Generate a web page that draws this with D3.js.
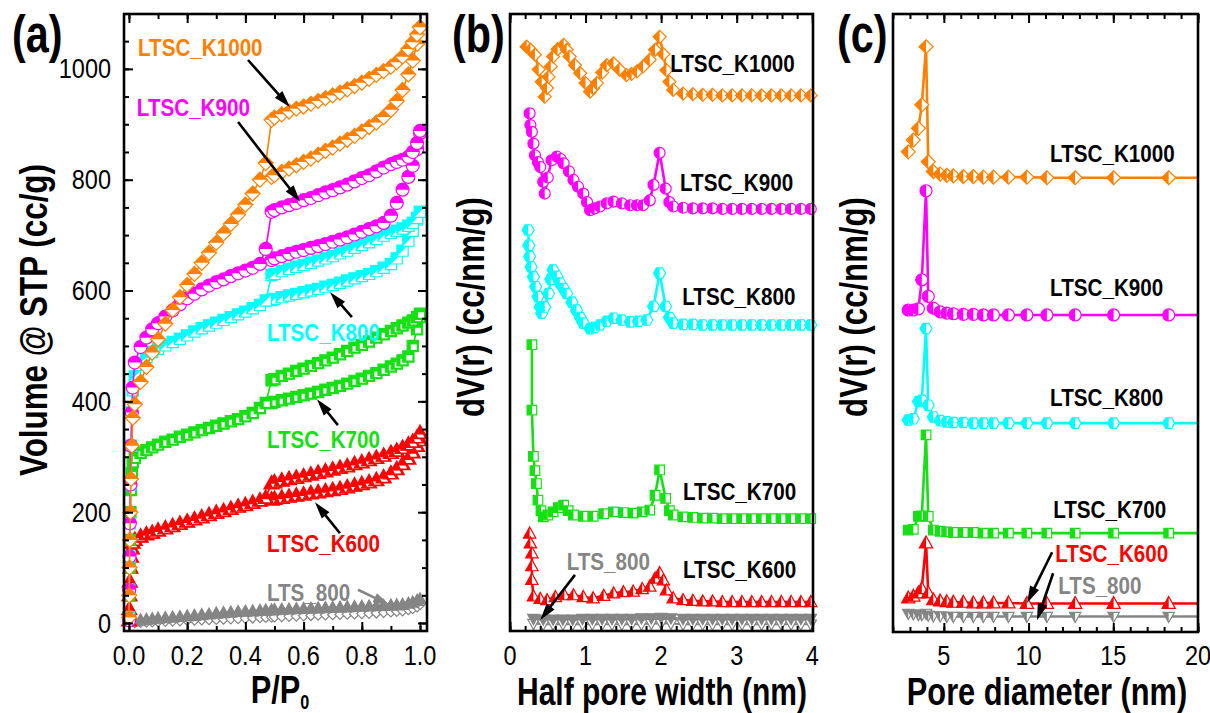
<!DOCTYPE html>
<html>
<head>
<meta charset="utf-8">
<script src="https://cdn.jsdelivr.net/npm/d3@7"></script>
<style>
  body { margin: 0; background: #fff; }
  svg { display: block; }
  text { font-family: "Liberation Sans", Arial, Helvetica, sans-serif; }
</style>
</head>
<body>
<div class="container"></div>
<script>
// ---------- (a) N2 isotherms, volume @ STP (cc/g) vs P/P0 ----------
// relative pressure grids
const pLow  = [0.0005,0.001,0.002,0.003,0.005,0.007,0.01,0.013];
const pMid  = [0.02,0.04,0.06,0.08,0.1,0.125,0.15,0.175,0.2,0.225,0.25,0.275,0.3,0.325,0.35,0.375,0.4,0.425,0.45,0.47];
const pHigh = [0.49,0.5,0.525,0.55,0.575,0.6,0.625,0.65,0.675,0.7,0.725,0.75,0.775,0.8,0.825,0.85,0.875,0.9,0.92,0.94,0.96,0.975,0.99,1.0];

const k1000Low   = [10,50,100,150,200,260,320,370];
const k1000Mid   = [395,435,462,488,512,540,565,588,610,630,650,668,686,703,720,737,755,775,800,830];
const k1000Upper = [908,912,918,923,928,932,937,942,947,952,957,963,969,975,982,989,996,1004,1012,1022,1036,1048,1062,1075];
const k1000Lower = [805,808,814,820,826,832,838,845,852,858,865,872,879,887,895,903,913,926,942,962,990,1015,1045,1075];

const k900Low   = [5,60,120,180,250,320,380,425];
const k900Mid   = [470,498,515,530,541,553,564,575,586,594,602,609,615,620,626,631,636,641,648,675];
const k900Upper = [742,745,750,754,758,763,767,772,777,781,786,791,797,803,808,815,822,828,832,836,841,850,866,888];
const k900Lower = [655,658,662,666,670,673,677,680,684,688,692,696,701,706,711,716,722,735,758,782,805,825,855,884];

const k800Low   = [10,60,120,180,250,320,380,420];
const k800Mid   = [445,466,480,489,495,501,507,513,519,526,532,537,542,547,552,557,562,568,574,582];
const k800Upper = [628,630,635,639,643,646,650,654,658,662,667,672,677,682,687,693,699,704,708,712,717,722,731,742];
const k800Lower = [583,585,588,591,594,597,600,603,607,610,614,618,622,626,630,635,641,648,658,672,690,708,728,742];

const k700Low   = [10,50,100,150,200,240,270,290];
const k700Mid   = [298,307,312,317,322,327,331,336,340,344,348,352,356,360,364,368,373,379,388,397];
const k700Upper = [438,440,446,450,455,459,464,469,474,479,485,491,497,502,508,515,521,527,532,537,542,546,552,558];
const k700Lower = [397,399,402,405,408,411,414,417,421,424,428,432,437,441,446,451,457,463,468,474,481,500,530,552];

const k600Low   = [5,25,50,75,100,120,135,145];
const k600Mid   = [150,156,160,163,167,171,175,179,183,187,191,195,199,202,206,210,213,217,221,226];
const k600Upper = [252,254,257,260,262,265,268,271,274,277,280,283,287,290,294,298,302,307,311,316,322,327,335,343];
const k600Lower = [223,224,226,228,230,232,234,236,238,240,242,245,248,251,254,258,263,270,278,287,297,308,320,330];

const ltsAdsMid  = [3,5,6,7,8,9,10,11,12,13,14.5,15.5,17,18,19,20,20.5,21,22,22.5];
const ltsAdsHigh = [23,23.5,24,24.5,25,25.5,26,26.5,27,27.5,28,28.5,29,29.5,30,30.5,31,31.5,32,33,35,37,40,43];
const ltsDesMid  = [0.5,1,1.5,2,2.5,3,3.5,4,4.5,5,5.5,6,6.5,7,7.5,8,8.5,9,9.5,10];
const ltsDesHigh = [10.5,11,11.5,12,12.5,13,13.5,14,14.5,15,15.5,16,16.5,17,17.5,18,19,20,21,22,24,26,29,33];

const aTicksX = [0, 0.2, 0.4, 0.6, 0.8, 1.0];
const aTicksY = [0, 200, 400, 600, 800, 1000];

// ---------- (b) dV(r) vs half pore width (nm), curves offset ----------
const bK1000x = [0.22,0.27,0.33,0.38,0.42,0.46,0.49,0.51,0.54,0.57,0.63,0.71,0.75,0.79,0.86,0.93,1.00,1.06,1.10,1.15,1.22,1.28,1.37,1.45,1.54,1.61,1.68,1.76,1.85,1.92,1.98,2.03,2.07,2.11,2.16];
const bK1000v = [9.47,9.42,9.34,9.10,8.90,8.66,8.80,8.98,9.15,9.31,9.43,9.50,9.42,9.31,9.17,9.04,8.88,8.74,8.80,8.88,9.05,9.17,9.20,9.10,9.01,9.03,9.07,9.15,9.26,9.42,9.63,9.35,9.09,8.90,8.77];
const bK900x = [0.26,0.27,0.29,0.31,0.33,0.37,0.40,0.44,0.46,0.50,0.55,0.62,0.67,0.71,0.78,0.84,0.90,0.97,1.02,1.06,1.12,1.19,1.28,1.37,1.48,1.59,1.68,1.76,1.85,1.90,1.98,2.06,2.11,2.16];
const bK900v = [8.39,8.20,8.09,7.90,7.71,7.60,7.52,7.28,7.09,7.35,7.63,7.69,7.65,7.58,7.45,7.31,7.20,7.09,6.95,6.82,6.85,6.88,6.93,6.96,6.93,6.90,6.90,6.90,6.98,7.23,7.75,7.17,6.95,6.88];
const bK800x = [0.24,0.25,0.26,0.28,0.31,0.34,0.37,0.40,0.42,0.46,0.51,0.54,0.57,0.62,0.66,0.71,0.75,0.82,0.88,0.93,0.97,1.06,1.12,1.19,1.28,1.37,1.48,1.59,1.70,1.81,1.90,1.98,2.06,2.11,2.16];
const bK800v = [6.50,6.25,6.07,5.90,5.74,5.58,5.42,5.25,5.15,5.25,5.47,5.70,5.85,5.75,5.64,5.55,5.47,5.33,5.20,5.08,4.99,4.90,4.92,4.96,5.02,5.07,5.04,5.01,5.02,5.04,5.26,5.80,5.26,5.08,4.99];
const bK700x = [0.29,0.29,0.31,0.33,0.35,0.37,0.41,0.44,0.50,0.57,0.64,0.71,0.77,0.84,0.97,1.10,1.24,1.37,1.50,1.63,1.75,1.85,1.92,1.98,2.06,2.11,2.16];
const bK700v = [4.64,3.58,2.83,2.60,2.39,2.12,1.95,1.85,1.88,1.93,2.00,2.04,1.95,1.88,1.86,1.86,1.90,1.93,1.92,1.91,1.93,1.96,2.20,2.61,2.15,1.95,1.88];
const bK600x = [0.26,0.27,0.29,0.29,0.29,0.31,0.40,0.49,0.60,0.72,0.84,0.97,1.10,1.24,1.37,1.50,1.63,1.75,1.85,1.92,1.98,2.03,2.07,2.16];
const bK600v = [1.58,1.42,1.26,1.05,0.83,0.56,0.52,0.50,0.55,0.58,0.58,0.55,0.53,0.57,0.61,0.63,0.64,0.68,0.72,0.85,0.94,0.82,0.66,0.53];
// flat tail shared by the five carbons
const bFlatX = [2.29,2.42,2.55,2.68,2.81,2.94,3.07,3.20,3.33,3.46,3.59,3.72,3.85,3.98];
const bK1000flat = [8.71,8.70,8.69,8.69,8.68,8.68,8.68,8.68,8.68,8.68,8.68,8.68,8.68,8.68];
const bK900flat  = [6.86,6.85,6.85,6.85,6.84,6.84,6.84,6.84,6.84,6.84,6.84,6.84,6.84,6.84];
const bK800flat  = [4.97,4.97,4.96,4.96,4.96,4.96,4.96,4.96,4.96,4.96,4.96,4.96,4.96,4.96];
const bK700flat  = [1.85,1.84,1.83,1.83,1.82,1.82,1.82,1.82,1.82,1.82,1.82,1.82,1.82,1.82];
const bK600flat  = [0.50,0.49,0.48,0.48,0.47,0.47,0.47,0.47,0.47,0.47,0.47,0.47,0.47,0.47];
const bLTSx    = [0.31,0.44,0.57,0.70,0.83,0.96,1.09,1.22,1.35,1.48,1.61,1.74,1.87,2.00,2.13,2.29,2.42,2.55,2.68,2.81,2.94,3.07,3.20,3.33,3.46,3.59,3.72,3.85,3.98];
const bLTSfill = [0.20,0.19,0.19,0.19,0.19,0.20,0.20,0.20,0.20,0.20,0.20,0.21,0.21,0.22,0.21,0.20,0.20,0.20,0.20,0.20,0.20,0.20,0.20,0.20,0.20,0.20,0.20,0.20,0.20];
const bLTSopen = [0.12,0.11,0.11,0.11,0.11,0.11,0.11,0.11,0.11,0.11,0.11,0.11,0.12,0.12,0.12,0.11,0.11,0.11,0.11,0.11,0.11,0.11,0.11,0.11,0.11,0.11,0.11,0.11,0.11];
const bTicksX = [0, 1, 2, 3, 4];

// ---------- (c) dV(r) vs pore diameter (nm), curves offset ----------
const cX     = [2.9,3.2,3.5,3.7,3.95,4.08,4.38,4.78,5.17,5.56,6.15,6.74,7.33,7.93,8.81,9.9,11.08,12.75,15.02,18.27,20];
const cK1000 = [7.77,7.96,8.15,8.53,9.47,7.61,7.45,7.41,7.39,7.38,7.37,7.37,7.36,7.36,7.36,7.36,7.35,7.35,7.35,7.35,7.35];
const cK900  = [5.21,5.21,5.23,5.70,7.14,5.43,5.24,5.18,5.16,5.15,5.14,5.14,5.13,5.13,5.13,5.13,5.13,5.13,5.13,5.13,5.13];
const cK800  = [3.43,3.45,3.73,3.75,4.91,3.67,3.48,3.42,3.40,3.39,3.39,3.38,3.38,3.38,3.38,3.38,3.38,3.38,3.38,3.38,3.38];
const cK700  = [1.65,1.66,1.87,1.88,3.19,1.87,1.65,1.63,1.62,1.61,1.61,1.61,1.60,1.60,1.60,1.60,1.60,1.60,1.60,1.60,1.60];
const cK600  = [0.55,0.58,0.63,0.70,1.44,0.63,0.52,0.50,0.49,0.48,0.48,0.47,0.47,0.47,0.47,0.46,0.46,0.46,0.46,0.46,0.46];
const cLTS   = [0.30,0.29,0.28,0.28,0.30,0.27,0.26,0.26,0.25,0.25,0.25,0.25,0.25,0.25,0.25,0.25,0.25,0.25,0.25,0.25,0.25];
const cTicksX = [5, 10, 15, 20];

// ---------- styles ----------
const col = { K1000:'#ff8000', K900:'#ff00ff', K800:'#00ffff', K700:'#14e014', K600:'#ff0000', LTS:'#858585' };

const W = 1210, H = 713;
const svg = d3.select('.container').append('svg').attr('width', W).attr('height', H);

const defs = svg.append('defs');
defs.append('clipPath').attr('id','clip-top').append('rect').attr('x',-20).attr('y',-20).attr('width',40).attr('height',20);
defs.append('clipPath').attr('id','clip-left').append('rect').attr('x',-20).attr('y',-20).attr('width',20).attr('height',40);
defs.append('clipPath').attr('id','clip-diag').append('polygon').attr('points','-20,-20 20,-20 -20,20');

function shapePath(type, r){
  if(type === 'diamond') return `M0,${-r}L${r},0L0,${r}L${-r},0Z`;
  if(type === 'circle') return `M${r},0A${r},${r} 0 1,1 ${-r},0A${r},${r} 0 1,1 ${r},0Z`;
  if(type === 'square'){ const s = r*0.8; return `M${-s},${-s}H${s}V${s}H${-s}Z`; }
  if(type === 'triUp') return `M0,${-r}L${r*0.95},${r*0.7}L${-r*0.95},${r*0.7}Z`;
  if(type === 'triDown') return `M0,${r}L${r*0.95},${-r*0.7}L${-r*0.95},${-r*0.7}Z`;
  if(type === 'hexagon'){
    const pts = d3.range(6).map(i => [r*Math.cos(Math.PI/3*i), r*Math.sin(Math.PI/3*i)]);
    return 'M' + pts.map(p => p.join(',')).join('L') + 'Z';
  }
}

const zip = (xs, ys) => xs.map((x, i) => [x, ys[i]]);

function drawLine(g, pts, x, y, color, w){
  g.append('path').datum(pts)
    .attr('d', d3.line().x(d => x(d[0])).y(d => y(d[1])))
    .attr('fill','none').attr('stroke',color).attr('stroke-width',w).attr('stroke-linejoin','round');
}

function drawMarkers(g, pts, x, y, st){
  const d = shapePath(st.shape, st.r);
  const m = g.append('g').selectAll('g').data(pts).join('g')
    .attr('transform', p => `translate(${x(p[0])},${y(p[1])})`);
  m.append('path').attr('d', d)
    .attr('fill', st.mode === 'solid' ? st.color : '#fff')
    .attr('stroke', st.color).attr('stroke-width', st.sw || 1.2);
  if(st.mode === 'half'){
    m.append('path').attr('d', d).attr('fill', st.color).attr('clip-path', `url(#clip-${st.half})`);
  }
  if(st.mode === 'inner'){
    m.append('path').attr('d', d).attr('fill', st.color);
    m.append('path').attr('d', st.inner).attr('fill', '#fff');
  }
}

function sText(g, x, y, txt, o){
  const rot = o.rotate ? ` rotate(${o.rotate})` : '';
  return g.append('text')
    .attr('transform', `translate(${x},${y})${rot} scale(${o.sx || 1},1)`)
    .attr('text-anchor', o.anchor || 'start')
    .attr('font-size', o.size)
    .attr('font-weight', o.bold ? 'bold' : 'normal')
    .attr('fill', o.color || '#000')
    .text(txt);
}

function arrow(g, x1, y1, x2, y2, color){
  const a = Math.atan2(y2 - y1, x2 - x1), L = 17, hw = 5;
  const bx = x2 - L*Math.cos(a), by = y2 - L*Math.sin(a);
  g.append('line').attr('x1',x1).attr('y1',y1).attr('x2',bx + 3*Math.cos(a)).attr('y2',by + 3*Math.sin(a))
    .attr('stroke',color).attr('stroke-width',2.6);
  g.append('path')
    .attr('d', `M${x2},${y2}L${bx - hw*Math.sin(a)},${by + hw*Math.cos(a)}L${bx + hw*Math.sin(a)},${by - hw*Math.cos(a)}Z`)
    .attr('fill', color);
}

function ticks(g, x, y, xMajor, xMinor, yMajor, yMinor){
  const [xl, xr] = x.range(), [yb, yt] = y.range();
  const put = (axis, tr, vals, size) => {
    const a = g.append('g').attr('transform', tr)
      .call(axis.tickValues(vals).tickSize(-size).tickFormat(''));
    a.select('.domain').remove();
    a.selectAll('line').attr('stroke-width', 2);
  };
  put(d3.axisBottom(x), `translate(0,${yb})`, xMinor, 5);
  put(d3.axisBottom(x), `translate(0,${yb})`, xMajor, 9);
  put(d3.axisTop(x), `translate(0,${yt})`, xMinor, 5);
  put(d3.axisTop(x), `translate(0,${yt})`, xMajor, 9);
  if(yMajor){
    put(d3.axisLeft(y), `translate(${xl},0)`, yMinor, 5);
    put(d3.axisLeft(y), `translate(${xl},0)`, yMajor, 9);
    put(d3.axisRight(y), `translate(${xr},0)`, yMinor, 5);
    put(d3.axisRight(y), `translate(${xr},0)`, yMajor, 9);
  }
  g.append('rect').attr('x', xl).attr('y', yt).attr('width', xr - xl).attr('height', yb - yt)
    .attr('fill','none').attr('stroke','#000').attr('stroke-width',2.6);
}

const tickFont = { size: 27, sx: 0.87, anchor: 'middle' };
const titleFont = { size: 38, sx: 0.81, bold: true, anchor: 'middle' };
const lblFont = { size: 24, sx: 0.86, bold: true };

// ================= panel (a) =================
const xa = d3.scaleLinear().domain([-0.017, 1.024]).range([124, 427]);
const ya = d3.scaleLinear().domain([-14.4, 1099]).range([631, 14]);
const ga = svg.append('g');

const aSamples = [
  { c: col.K600,  low: k600Low,  mid: k600Mid,  up: k600Upper,  lo: k600Lower,
    st: { shape:'triUp', r:8, mode:'inner', inner:'M-3.5,1.5L3,1.5L4.5,4.5L-2,4.5Z' } },
  { c: col.K700,  low: k700Low,  mid: k700Mid,  up: k700Upper,  lo: k700Lower,
    st: { shape:'square', r:7, mode:'inner', inner:'M-2,-1.5H4V4H-2Z' } },
  { c: col.K800,  low: k800Low,  mid: k800Mid,  up: k800Upper,  lo: k800Lower,
    st: { shape:'square', r:7, mode:'half', half:'diag' } },
  { c: col.K900,  low: k900Low,  mid: k900Mid,  up: k900Upper,  lo: k900Lower,
    st: { shape:'circle', r:6.5, mode:'half', half:'top' } },
  { c: col.K1000, low: k1000Low, mid: k1000Mid, up: k1000Upper, lo: k1000Lower,
    st: { shape:'diamond', r:7.5, mode:'half', half:'top' } }
];

// LTS_800 (drawn first, bottom)
const ltsAds = zip(pMid.concat(pHigh), ltsAdsMid.concat(ltsAdsHigh));
const ltsDes = zip(pMid.concat(pHigh), ltsDesMid.concat(ltsDesHigh));
drawLine(ga, ltsDes, xa, ya, col.LTS, 1.5);
drawLine(ga, ltsAds, xa, ya, col.LTS, 1.5);
drawMarkers(ga, ltsDes, xa, ya, { shape:'diamond', r:5, mode:'open', color: col.LTS });
drawMarkers(ga, ltsAds, xa, ya, { shape:'triUp', r:6.5, mode:'solid', color: col.LTS });

aSamples.forEach(s => {
  const ads = zip(pLow.concat(pMid), s.low.concat(s.mid)).concat(zip(pHigh, s.up));
  const des = zip(pHigh, s.lo);
  drawLine(ga, des, xa, ya, s.c, 1.6);
  drawLine(ga, ads, xa, ya, s.c, 1.6);
  const st = Object.assign({ color: s.c }, s.st);
  drawMarkers(ga, des, xa, ya, st);
  drawMarkers(ga, ads, xa, ya, st);
});

ticks(ga, xa, ya, aTicksX, xa.ticks(10), aTicksY, ya.ticks(20));

aTicksX.forEach(v => sText(ga, xa(v), 665, d3.format('.1f')(v), tickFont));
aTicksY.forEach(v => sText(ga, 111, ya(v) + 9.5, String(v), Object.assign({}, tickFont, { anchor:'end' })));

// labels and arrows, placed in data units
sText(ga, xa(0.031), ya(1023), 'LTSC_K1000', Object.assign({ color: col.K1000 }, lblFont));
sText(ga, xa(0.027), ya(915), 'LTSC_K900', Object.assign({ color: col.K900 }, lblFont));
sText(ga, xa(0.474), ya(509), 'LTSC_K800', Object.assign({ color: col.K800 }, lblFont));
sText(ga, xa(0.474), ya(316), 'LTSC_K700', Object.assign({ color: col.K700 }, lblFont));
sText(ga, xa(0.474), ya(128), 'LTSC_K600', Object.assign({ color: col.K600 }, lblFont));
sText(ga, xa(0.474), ya(40), 'LTS_800', Object.assign({ color: col.LTS }, lblFont));
arrow(ga, xa(0.409), ya(1016), xa(0.553), ya(931), '#000');
arrow(ga, xa(0.375), ya(904), xa(0.588), ya(760), '#000');
arrow(ga, xa(0.766), ya(552), xa(0.691), ya(597), '#000');
arrow(ga, xa(0.718), ya(357), xa(0.646), ya(404), '#000');
arrow(ga, xa(0.725), ya(162), xa(0.639), ya(218), '#000');
arrow(ga, xa(0.787), ya(60), xa(0.897), ya(32), col.LTS);

sText(ga, 47, 320, 'Volume @ STP (cc/g)', Object.assign({}, titleFont, { rotate: -90, sx: 0.826 }));
const pt = sText(ga, 280, 703, 'P/P', titleFont);
pt.append('tspan').attr('font-size', 20).attr('dy', 6).text('0');
sText(ga, 12, 52, '(a)', { size: 51, sx: 0.81, bold: true });

// ================= panel (b) =================
const xb = d3.scaleLinear().domain([0, 4.01]).range([510, 813]);
const yb = d3.scaleLinear().domain([0, 10]).range([631, 14]);
const gb = svg.append('g');

const bSamples = [
  { c: col.K600,  pts: zip(bK600x, bK600v).concat(zip(bFlatX, bK600flat)),   st: { shape:'triUp', r:6.5, mode:'half', half:'left' } },
  { c: col.K700,  pts: zip(bK700x, bK700v).concat(zip(bFlatX, bK700flat)),   st: { shape:'square', r:6, mode:'half', half:'left' } },
  { c: col.K800,  pts: zip(bK800x, bK800v).concat(zip(bFlatX, bK800flat)),   st: { shape:'hexagon', r:6, mode:'half', half:'left' } },
  { c: col.K900,  pts: zip(bK900x, bK900v).concat(zip(bFlatX, bK900flat)),   st: { shape:'circle', r:5.5, mode:'half', half:'left' } },
  { c: col.K1000, pts: zip(bK1000x, bK1000v).concat(zip(bFlatX, bK1000flat)), st: { shape:'diamond', r:6.5, mode:'half', half:'left' } }
];

const bLtsFill = zip(bLTSx, bLTSfill), bLtsOpen = zip(bLTSx, bLTSopen);
drawLine(gb, bLtsOpen, xb, yb, col.LTS, 2);
drawLine(gb, bLtsFill, xb, yb, col.LTS, 2.5);
drawMarkers(gb, bLtsOpen, xb, yb, { shape:'triDown', r:6, mode:'open', color: col.LTS });
drawMarkers(gb, bLtsFill, xb, yb, { shape:'triDown', r:6, mode:'solid', color: col.LTS });

bSamples.forEach(s => {
  drawLine(gb, s.pts, xb, yb, s.c, 2.6);
  drawMarkers(gb, s.pts, xb, yb, Object.assign({ color: s.c }, s.st));
});

ticks(gb, xb, yb, bTicksX, xb.ticks(20), null, null);
bTicksX.forEach(v => sText(gb, xb(v), 665, String(v), tickFont));

sText(gb, xb(2.12), yb(9.06), 'LTSC_K1000', lblFont);
sText(gb, xb(2.25), yb(7.13), 'LTSC_K900', lblFont);
sText(gb, xb(2.28), yb(5.28), 'LTSC_K800', lblFont);
sText(gb, xb(2.29), yb(2.12), 'LTSC_K700', lblFont);
sText(gb, xb(2.29), yb(0.86), 'LTSC_K600', lblFont);
sText(gb, xb(0.75), yb(0.99), 'LTS_800', Object.assign({ color: col.LTS }, lblFont));
arrow(gb, xb(0.86), yb(0.91), xb(0.40), yb(0.18), '#000');

sText(gb, 484, 307, 'dV(r) (cc/nm/g)', Object.assign({}, titleFont, { rotate: -90, sx: 0.82 }));
sText(gb, 662, 705, 'Half pore width (nm)', Object.assign({}, titleFont, { sx: 0.79 }));
sText(gb, 452, 52, '(b)', { size: 51, sx: 0.81, bold: true });

// ================= panel (c) =================
const xc = d3.scaleLinear().domain([2, 20]).range([893, 1198]);
const yc = d3.scaleLinear().domain([0, 10]).range([632, 14]);
const gc = svg.append('g');

const cSamples = [
  { c: col.LTS,   v: cLTS,   st: { shape:'triDown', r:6, mode:'half', half:'left' } },
  { c: col.K600,  v: cK600,  st: { shape:'triUp', r:7, mode:'half', half:'left' } },
  { c: col.K700,  v: cK700,  st: { shape:'square', r:6, mode:'half', half:'left' } },
  { c: col.K800,  v: cK800,  st: { shape:'hexagon', r:6, mode:'half', half:'left' } },
  { c: col.K900,  v: cK900,  st: { shape:'circle', r:6, mode:'half', half:'left' } },
  { c: col.K1000, v: cK1000, st: { shape:'diamond', r:7, mode:'half', half:'left' } }
];
cSamples.forEach(s => {
  const pts = zip(cX, s.v);
  drawLine(gc, pts, xc, yc, s.c, 2.6);
  drawMarkers(gc, pts.filter(p => p[0] < 20), xc, yc, Object.assign({ color: s.c }, s.st));
});

ticks(gc, xc, yc, cTicksX, xc.ticks(18), null, null);
cTicksX.forEach(v => sText(gc, xc(v), 665, String(v), tickFont));

sText(gc, xc(11.27), yc(7.61), 'LTSC_K1000', lblFont);
sText(gc, xc(11.27), yc(5.44), 'LTSC_K900', lblFont);
sText(gc, xc(11.27), yc(3.66), 'LTSC_K800', lblFont);
sText(gc, xc(11.45), yc(1.84), 'LTSC_K700', lblFont);
sText(gc, xc(11.57), yc(1.13), 'LTSC_K600', Object.assign({ color: col.K600 }, lblFont));
sText(gc, xc(11.75), yc(0.61), 'LTS_800', Object.assign({ color: col.LTS }, lblFont));
arrow(gc, xc(11.39), yc(1.29), xc(9.91), yc(0.47), '#000');
arrow(gc, xc(11.45), yc(0.95), xc(10.5), yc(0.19), '#000');

sText(gc, 867, 307, 'dV(r) (cc/nm/g)', Object.assign({}, titleFont, { rotate: -90, sx: 0.82 }));
sText(gc, 1047, 705, 'Pore diameter (nm)', Object.assign({}, titleFont, { sx: 0.81 }));
sText(gc, 837, 52, '(c)', { size: 51, sx: 0.81, bold: true });
</script>
</body>
</html>
